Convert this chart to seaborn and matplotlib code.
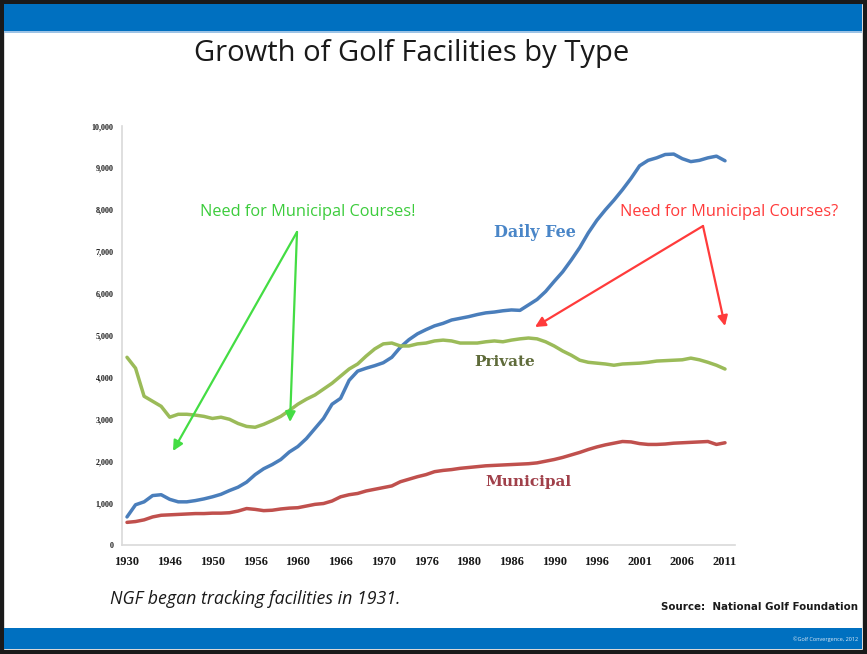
import numpy as np
import pandas as pd
import matplotlib
matplotlib.use("Agg")
import matplotlib.pyplot as plt
from matplotlib.patches import Rectangle, FancyArrowPatch
import seaborn as sns

# Category-axis labels (NGF reporting years)
year_labels = ["1930", "1946", "1950", "1956", "1960", "1966", "1970", "1976",
               "1980", "1986", "1990", "1996", "2001", "2006", "2011"]

# Number of facilities, sampled every fifth of a label interval
daily_fee = [670, 960, 1030, 1180, 1200, 1090, 1030, 1030, 1060, 1100,
             1150, 1210, 1300, 1380, 1500, 1680, 1820, 1920, 2040, 2220,
             2350, 2540, 2780, 3020, 3360, 3500, 3930, 4150, 4220, 4280,
             4350, 4480, 4720, 4900, 5040, 5140, 5230, 5290, 5370, 5410,
             5450, 5500, 5540, 5560, 5590, 5610, 5600, 5730, 5860, 6050,
             6290, 6520, 6800, 7100, 7450, 7750, 8000, 8230, 8480, 8750,
             9050, 9180, 9240, 9320, 9330, 9220, 9150, 9180, 9240, 9280,
             9170]
private = [4480, 4220, 3550, 3430, 3310, 3050, 3120, 3120, 3100, 3070,
           3020, 3050, 3000, 2900, 2830, 2810, 2880, 2970, 3070, 3210,
           3360, 3480, 3580, 3720, 3860, 4030, 4200, 4320, 4510, 4680,
           4800, 4820, 4750, 4750, 4800, 4820, 4870, 4890, 4870, 4820,
           4820, 4820, 4850, 4870, 4850, 4890, 4920, 4940, 4920, 4850,
           4750, 4630, 4530, 4410, 4360, 4340, 4320, 4290, 4320, 4330,
           4340, 4360, 4390, 4400, 4410, 4420, 4460, 4420, 4360, 4290,
           4200]
municipal = [540, 560, 600, 670, 710, 720, 730, 740, 750, 750,
             760, 760, 770, 810, 870, 850, 820, 830, 860, 880,
             890, 930, 970, 990, 1050, 1150, 1200, 1230, 1290, 1330,
             1370, 1410, 1510, 1570, 1630, 1680, 1750, 1780, 1800, 1830,
             1850, 1870, 1890, 1900, 1910, 1920, 1930, 1940, 1960, 2000,
             2040, 2090, 2150, 2210, 2280, 2340, 2390, 2430, 2470, 2460,
             2420, 2400, 2400, 2410, 2430, 2440, 2450, 2460, 2470, 2400,
             2440]

series_names = ["Daily Fee", "Private", "Municipal"]
series_colors = ["#4a7ebb", "#9bbb59", "#c0504d"]

pos = np.linspace(0, len(year_labels) - 1, len(daily_fee))
df = pd.DataFrame({
    "pos": np.tile(pos, 3),
    "facilities": daily_fee + private + municipal,
    "type": np.repeat(series_names, len(pos)),
})

sns.set_theme(style="white")
plt.rcParams["font.family"] = ["Open Sans", "DejaVu Sans"]

W, H = 867, 654
fig = plt.figure(figsize=(W / 100, H / 100), dpi=100)
fig.patch.set_facecolor("white")


def fx(px):
    return px / W


def fy(py):
    return 1 - py / H


# slide frame and header/footer bars
fig.add_artist(Rectangle((0, 0), 1, 1, transform=fig.transFigure,
                         facecolor="none", edgecolor="#1a1a1a", linewidth=6, zorder=0))
fig.add_artist(Rectangle((fx(4), fy(31)), fx(858), 27 / H, transform=fig.transFigure,
                         facecolor="#0070c0", edgecolor="none", zorder=1))
fig.add_artist(Rectangle((fx(4), fy(33)), fx(858), 2 / H, transform=fig.transFigure,
                         facecolor="#9cc3e6", edgecolor="none", zorder=1))
fig.add_artist(Rectangle((fx(4), fy(649)), fx(858), 21 / H, transform=fig.transFigure,
                         facecolor="#0070c0", edgecolor="none", zorder=1))

ax = fig.add_axes([fx(122), fy(545), fx(735) - fx(122), (545 - 126) / H])
ax.set_facecolor("none")
sns.lineplot(data=df, x="pos", y="facilities", hue="type", hue_order=series_names,
             palette=series_colors, linewidth=2.5, legend=False, ax=ax)

ax.set_xlim(-0.117, len(year_labels) - 1 + 0.234)
ax.set_ylim(0, 10000)
ax.set_xticks(range(len(year_labels)))
ax.set_xticklabels(year_labels, fontsize=9, fontweight="bold",
                   family=["Liberation Serif", "DejaVu Serif"])
yt = np.arange(0, 10001, 1000)
ax.set_yticks(yt)
ax.set_yticklabels([f"{v:,}" for v in yt], fontsize=5.8, fontweight="bold",
                   family=["Liberation Serif", "DejaVu Serif"])
ax.tick_params(axis="both", length=0, colors="#1a1a1a")
ax.tick_params(axis="x", pad=8)
ax.tick_params(axis="y", pad=6)
ax.set_xlabel("")
ax.set_ylabel("")
for side in ("top", "right"):
    ax.spines[side].set_visible(False)
for side in ("left", "bottom"):
    ax.spines[side].set_color("#d9d9d9")
    ax.spines[side].set_linewidth(1.2)

# series labels
ax.text(9.55, 7470, "Daily Fee", color="#4a86c8", fontsize=11.5, fontweight="bold",
        family=["DejaVu Serif"], ha="center", va="center")
ax.text(8.85, 4370, "Private", color="#5f6b3a", fontsize=11, fontweight="bold",
        family=["DejaVu Serif"], ha="center", va="center")
ax.text(9.39, 1500, "Municipal", color="#a0404a", fontsize=11, fontweight="bold",
        family=["DejaVu Serif"], ha="center", va="center")

# title and notes
fig.text(fx(412), fy(53), "Growth of Golf Facilities by Type", fontsize=21,
         ha="center", va="center", color="#1a1a1a")
fig.text(fx(110), fy(599), "NGF began tracking facilities in 1931.", fontsize=12.8,
         style="italic", ha="left", va="center", color="#1a1a1a")
fig.text(fx(858), fy(607), "Source:  National Golf Foundation", fontsize=7.4,
         fontweight="bold", ha="right", va="center", color="#1a1a1a",
         family=["Liberation Sans Narrow", "DejaVu Sans"])
fig.text(fx(858), fy(639), "\u00a9Golf Convergence, 2012", fontsize=4,
         ha="right", va="center", color="#dce9f5")

# callouts
green = "#44dd44"
red = "#ff3b3b"
fig.text(fx(308), fy(212), "Need for Municipal Courses!", fontsize=11.8,
         color="#3ccc3c", ha="center", va="center")
fig.text(fx(729), fy(212), "Need for Municipal Courses?", fontsize=11.8,
         color=red, ha="center", va="center")


def callout(start, end, color):
    fig.add_artist(FancyArrowPatch(
        (fx(start[0]), fy(start[1])), (fx(end[0]), fy(end[1])),
        transform=fig.transFigure, arrowstyle="-|>,head_length=6,head_width=3",
        color=color, linewidth=1.6, shrinkA=0, shrinkB=0, zorder=5))


callout((297, 232), (173, 451), green)
callout((297, 232), (290, 422), green)
callout((703, 226), (535, 327), red)
callout((703, 226), (725, 326), red)

fig.savefig("out.png", dpi=100, facecolor=fig.get_facecolor())
